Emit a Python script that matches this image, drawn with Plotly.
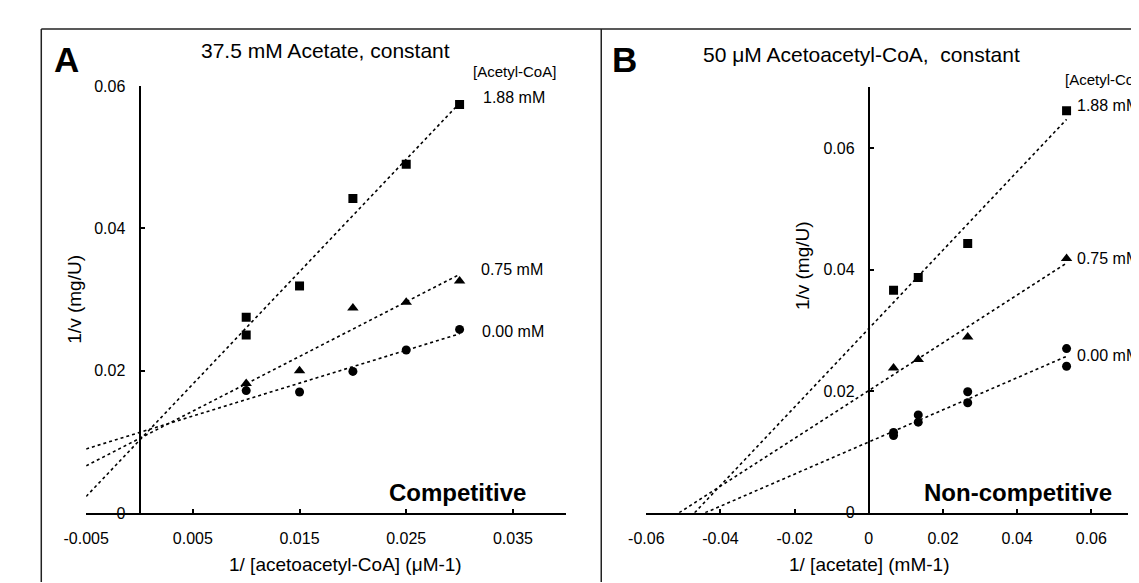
import numpy as np
import plotly.graph_objects as go

W, H = 1139, 583
FONT = "Liberation Sans, Arial, sans-serif"

# ---------------- Panel A data (37.5 mM acetate constant) ----------------
a_sq_x = [0.01, 0.01, 0.015, 0.02, 0.025, 0.03]
a_sq_y = [0.0275, 0.0250, 0.0319, 0.0442, 0.0490, 0.0574]
a_tri_x = [0.01, 0.015, 0.02, 0.025, 0.03]
a_tri_y = [0.0182, 0.0200, 0.0288, 0.0296, 0.0326]
a_cir_x = [0.01, 0.015, 0.02, 0.025, 0.03]
a_cir_y = [0.0172, 0.0170, 0.0199, 0.0229, 0.0258]
a_xticks = [-0.005, 0.005, 0.015, 0.025, 0.035]
a_yticks = [0, 0.02, 0.04, 0.06]
a_line_x = [-0.005, 0.03]

# ---------------- Panel B data (50 uM acetoacetyl-CoA constant) ----------------
b_sq_x = [0.00667, 0.01333, 0.02667, 0.05333]
b_sq_y = [0.0366, 0.0387, 0.0443, 0.0661]
b_tri_x = [0.00667, 0.01333, 0.02667, 0.05333]
b_tri_y = [0.0238, 0.0252, 0.0289, 0.0418]
b_cir_x = [0.00667, 0.00667, 0.01333, 0.01333, 0.02667, 0.02667, 0.05333, 0.05333]
b_cir_y = [0.0132, 0.0127, 0.0161, 0.0149, 0.0199, 0.0181, 0.0270, 0.0241]
b_xticks = [-0.06, -0.04, -0.02, 0, 0.02, 0.04, 0.06]
b_yticks = [0, 0.02, 0.04, 0.06]

series_labels = ["1.88 mM", "0.75 mM", "0.00 mM"]


def px(x):
    return x / W


def py(y):
    return 1 - y / H


def fit(xs, ys):
    m, b = np.polyfit(xs, ys, 1)
    return m, b


fig = go.Figure()

line_style = dict(color="black", width=1.6, dash="dot")

# Panel A trend lines and markers
for xs, ys in [(a_sq_x, a_sq_y), (a_tri_x, a_tri_y), (a_cir_x, a_cir_y)]:
    m, b = fit(xs, ys)
    lx = np.array(a_line_x)
    fig.add_trace(go.Scatter(x=lx, y=m * lx + b, mode="lines", line=line_style,
                             xaxis="x", yaxis="y", showlegend=False, hoverinfo="skip"))
for xs, ys, sym, sz in [(a_sq_x, a_sq_y, "square", 9), (a_tri_x, a_tri_y, "triangle-up", 10),
                        (a_cir_x, a_cir_y, "circle", 9)]:
    fig.add_trace(go.Scatter(x=xs, y=ys, mode="markers",
                             marker=dict(symbol=sym, size=sz, color="black"),
                             xaxis="x", yaxis="y", showlegend=False))

# Panel B trend lines (from x-intercept to last point) and markers
for xs, ys in [(b_sq_x, b_sq_y), (b_tri_x, b_tri_y), (b_cir_x, b_cir_y)]:
    m, b = fit(xs, ys)
    lx = np.array([-b / m, max(xs)])
    fig.add_trace(go.Scatter(x=lx, y=m * lx + b, mode="lines", line=line_style,
                             xaxis="x2", yaxis="y2", showlegend=False, hoverinfo="skip"))
for xs, ys, sym, sz in [(b_sq_x, b_sq_y, "square", 9), (b_tri_x, b_tri_y, "triangle-up", 10),
                        (b_cir_x, b_cir_y, "circle", 9)]:
    fig.add_trace(go.Scatter(x=xs, y=ys, mode="markers",
                             marker=dict(symbol=sym, size=sz, color="black"),
                             xaxis="x2", yaxis="y2", showlegend=False))

axis_common = dict(showline=True, linewidth=2, linecolor="black", showgrid=False,
                   zeroline=False, ticks="inside", ticklen=4, tickwidth=1.5,
                   tickcolor="black", tickfont=dict(family=FONT, size=16, color="black"),
                   ticklabelstandoff=10)


def fmt(v):
    return "0" if v == 0 else ("%g" % v)


fig.update_layout(
    width=W, height=H,
    margin=dict(l=0, r=0, t=0, b=0),
    paper_bgcolor="white", plot_bgcolor="rgba(0,0,0,0)",
    font=dict(family=FONT, color="black"),
    xaxis=dict(axis_common, domain=[px(56.3), px(546.3)], range=[-0.005, 0.04],
               anchor="y", tickvals=a_xticks, ticktext=[fmt(v) for v in a_xticks]),
    yaxis=dict(axis_common, domain=[py(512), py(72)], range=[0, 0.06],
               anchor="free", position=px(110.8), tickvals=a_yticks,
               ticktext=[fmt(v) for v in a_yticks]),
    xaxis2=dict(axis_common, domain=[px(628), px(1120)], range=[-0.06, 0.07],
                anchor="y2", tickvals=b_xticks, ticktext=[fmt(v) for v in b_xticks]),
    yaxis2=dict(axis_common, domain=[py(511.7), py(73.3)], range=[0, 0.07],
                anchor="free", position=px(855), tickvals=b_yticks,
                ticktext=[fmt(v) for v in b_yticks]),
)

# frame lines
frame = dict(color="#222222", width=1.5)
fig.add_shape(type="line", xref="paper", yref="paper", x0=px(10.5), x1=1, y0=py(13.3), y1=py(13.3), line=frame)
fig.add_shape(type="line", xref="paper", yref="paper", x0=px(10.5), x1=px(10.5), y0=0, y1=py(13.3), line=frame)
fig.add_shape(type="line", xref="paper", yref="paper", x0=px(582), x1=px(582), y0=0, y1=py(13.3), line=frame)


def ann(text, x, y, size, bold=False, xanchor="center", angle=0):
    fig.add_annotation(text=("<b>%s</b>" % text) if bold else text, xref="paper", yref="paper",
                       x=px(x), y=py(y), xanchor=xanchor, yanchor="middle", showarrow=False,
                       textangle=angle, font=dict(family=FONT, size=size, color="black"))


# Panel A text
ann("A", 36, 45, 35, bold=True)
ann("37.5 mM Acetate, constant", 300.6, 36, 21)
ann("[Acetyl-CoA]", 493, 57, 15)
ann(series_labels[0], 492.6, 83.5, 16)
ann(series_labels[1], 490.5, 261, 16)
ann(series_labels[2], 491.5, 324.5, 16)
ann("Competitive", 435, 491, 24, bold=True)
ann("1/v (mg/U)", 43.6, 291.5, 19, angle=-90)
ann("1/ [acetoacetyl-CoA] (μM-1)", 320.5, 565, 19)

# Panel B text
ann("B", 605.7, 45, 35, bold=True)
ann("50 μM Acetoacetyl-CoA,  constant", 847.7, 39.5, 21)
ann("[Acetyl-CoA]", 1053, 65.5, 15, xanchor="left")
ann(series_labels[0], 1066, 92, 16, xanchor="left")
ann(series_labels[1], 1066, 249.5, 16, xanchor="left")
ann(series_labels[2], 1066, 349.5, 16, xanchor="left")
ann("Non-competitive", 1007, 491, 24, bold=True)
ann("1/v (mg/U)", 788, 257.5, 19, angle=-90)
ann("1/ [acetate] (mM-1)", 856, 565, 19)

fig.write_html("out.html")
